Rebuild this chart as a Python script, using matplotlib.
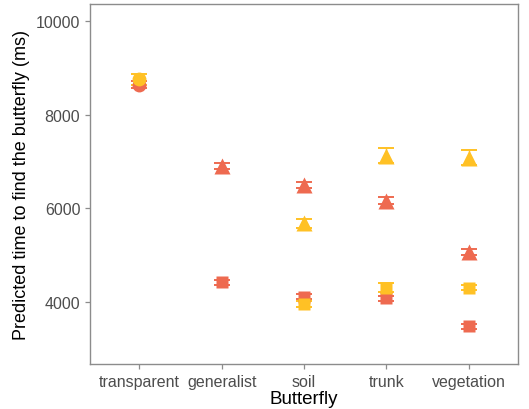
import numpy as np
import matplotlib.pyplot as plt

plt.rcParams['font.family'] = ['Liberation Sans', 'DejaVu Sans']

categories = ['transparent', 'generalist', 'soil', 'trunk', 'vegetation']

# red series (nan = not present)
red_tri = [np.nan, 6910, 6500, 6170, 5070]
red_tri_err = [np.nan, 60, 70, 80, 70]
red_sq = [np.nan, 4420, 4110, 4080, 3480]
red_sq_err = [np.nan, 55, 55, 55, 50]
red_circ = [8650, np.nan, np.nan, np.nan, np.nan]
red_circ_err = [70, np.nan, np.nan, np.nan, np.nan]

# yellow series
yel_tri = [np.nan, np.nan, 5680, 7130, 7090]
yel_tri_err = [np.nan, np.nan, 90, 160, 170]
yel_sq = [np.nan, np.nan, 3960, 4310, 4310]
yel_sq_err = [np.nan, np.nan, 60, 100, 60]
yel_circ = [8760, np.nan, np.nan, np.nan, np.nan]
yel_circ_err = [120, np.nan, np.nan, np.nan, np.nan]

red = '#EE6A50'
yellow = '#FFC125'

fig = plt.figure(figsize=(5.29, 4.10), dpi=100)
ax = fig.add_axes([90/529, (410-365)/410, (518-90)/529, (365-5)/410])
x = np.arange(1, len(categories) + 1)

series = [
    (red_circ, red_circ_err, 'o', 10, red),
    (red_tri, red_tri_err, '^', 11, red),
    (red_sq, red_sq_err, 's', 8.5, red),
    (yel_circ, yel_circ_err, 'o', 10, yellow),
    (yel_tri, yel_tri_err, '^', 11, yellow),
    (yel_sq, yel_sq_err, 's', 8.5, yellow),
]
for vals, err, mk, ms, col in series:
    ax.errorbar(x, vals, yerr=err, fmt=mk, ms=ms, color=col, mec='none',
                ecolor=col, elinewidth=1.0, capsize=6, capthick=1.4)

ax.set_xlim(0.4, 5.6)
ax.set_ylim(2674, 10374)
ax.set_xticks(x)
ax.set_xticklabels(categories)
ax.set_yticks([4000, 6000, 8000, 10000])
ax.tick_params(colors='#8c8c8c', labelcolor='#4D4D4D', labelsize=11.5,
               length=3.5, width=0.9)
for s in ax.spines.values():
    s.set_color('#8c8c8c')
    s.set_linewidth(1.0)
ax.set_xlabel('Butterfly', fontsize=13.5, labelpad=1)
ax.set_ylabel('Predicted time to find the butterfly (ms)', fontsize=13, labelpad=4)

fig.savefig('out.png', dpi=100)
